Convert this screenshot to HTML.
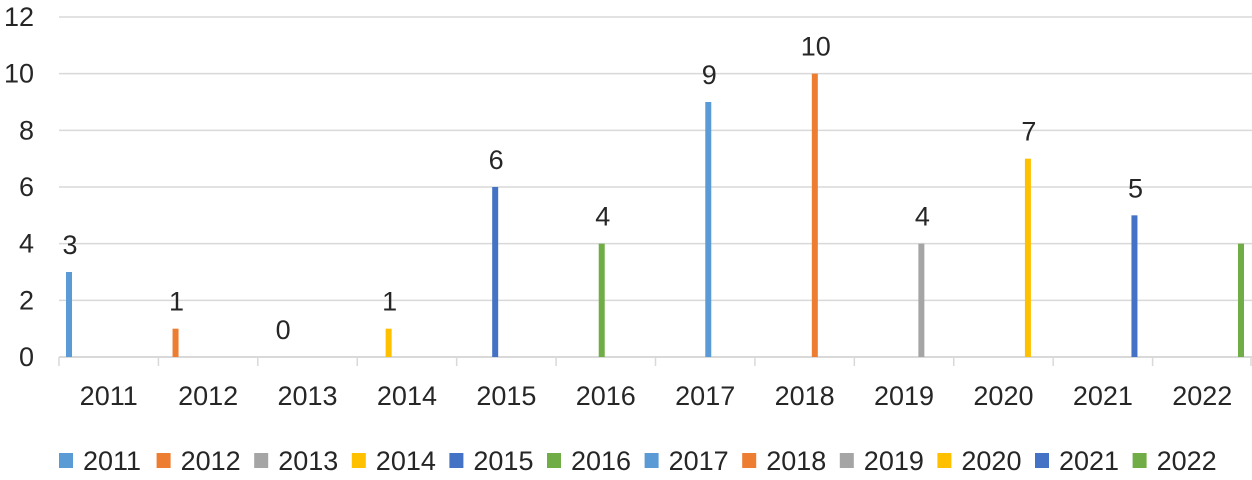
<!DOCTYPE html>
<html><head><meta charset="utf-8"><style>
body{margin:0;background:#fff;}
svg text{font-family:"Liberation Sans",Arial,sans-serif;fill:#262626;}
</style></head><body>
<svg width="1252" height="475">
<g id="grid"></g><g id="bars"></g><g id="labels"></g><g id="axis"></g><g id="legend"></g>
</svg>
<script>
const categories=["2011","2012","2013","2014","2015","2016","2017","2018","2019","2020","2021","2022"];
const values=[3,1,0,1,6,4,9,10,4,7,5,4];
const yTicks=[0,2,4,6,8,10,12];
const colors=["#5b9bd5","#ed7d31","#a5a5a5","#ffc000","#4472c4","#70ad47","#5b9bd5","#ed7d31","#a5a5a5","#ffc000","#4472c4","#70ad47"];
const NS="http://www.w3.org/2000/svg";
const x0=59,x1=1252,yBase=357,yTop=17,yMax=12;
const catW=(x1-x0)/categories.length;
const y=v=>yBase-(yBase-yTop)*v/yMax;
const slotX=(c,s)=>x0+c*catW+10+s*(catW-21)/(categories.length-1);
function mk(tag,attrs,parent){const e=document.createElementNS(NS,tag);for(const k in attrs)e.setAttribute(k,attrs[k]);document.getElementById(parent).appendChild(e);return e;}
yTicks.forEach(t=>{
  const l=mk('line',{x1:x0,x2:x1,y1:y(t),y2:y(t),stroke:'#d9d9d9','stroke-width':t===0?2:1.5},'grid');
  
  
  const tx=mk('text',{x:34,y:y(t)+9,'text-anchor':'end','font-size':27},'axis');
  tx.textContent=t;
  
  
});
categories.forEach((c,i)=>{
  const tk=mk('line',{x1:x0+i*catW,x2:x0+i*catW,y1:yBase,y2:yBase+9,stroke:'#d9d9d9','stroke-width':1.5},'axis');
  
  
  const tx=mk('text',{x:x0+(i+0.5)*catW,y:405,'text-anchor':'middle','font-size':27},'axis');
  tx.textContent=c;
  
  
  const v=values[i];const cx=slotX(i,i);
  const b=mk('rect',{x:cx-3,y:y(v),width:6,height:yBase-y(v),fill:colors[i]},'bars');
  
  
  if(i<categories.length-1){
    const lb=mk('text',{x:cx+1,y:y(v)-18,'text-anchor':'middle','font-size':27},'labels');
    lb.textContent=v;
    
    
  }
  const lx=59+i*97.6;
  const sq=mk('rect',{x:lx,y:453,width:14,height:15,fill:colors[i]},'legend');
  
  
  const lt=mk('text',{x:lx+24,y:470,'font-size':27},'legend');
  lt.textContent=c;
  
  
});
const last=mk('line',{x1:x1-1,x2:x1-1,y1:yBase,y2:yBase+9,stroke:'#d9d9d9','stroke-width':1.5},'axis');


</script>
</body></html>
